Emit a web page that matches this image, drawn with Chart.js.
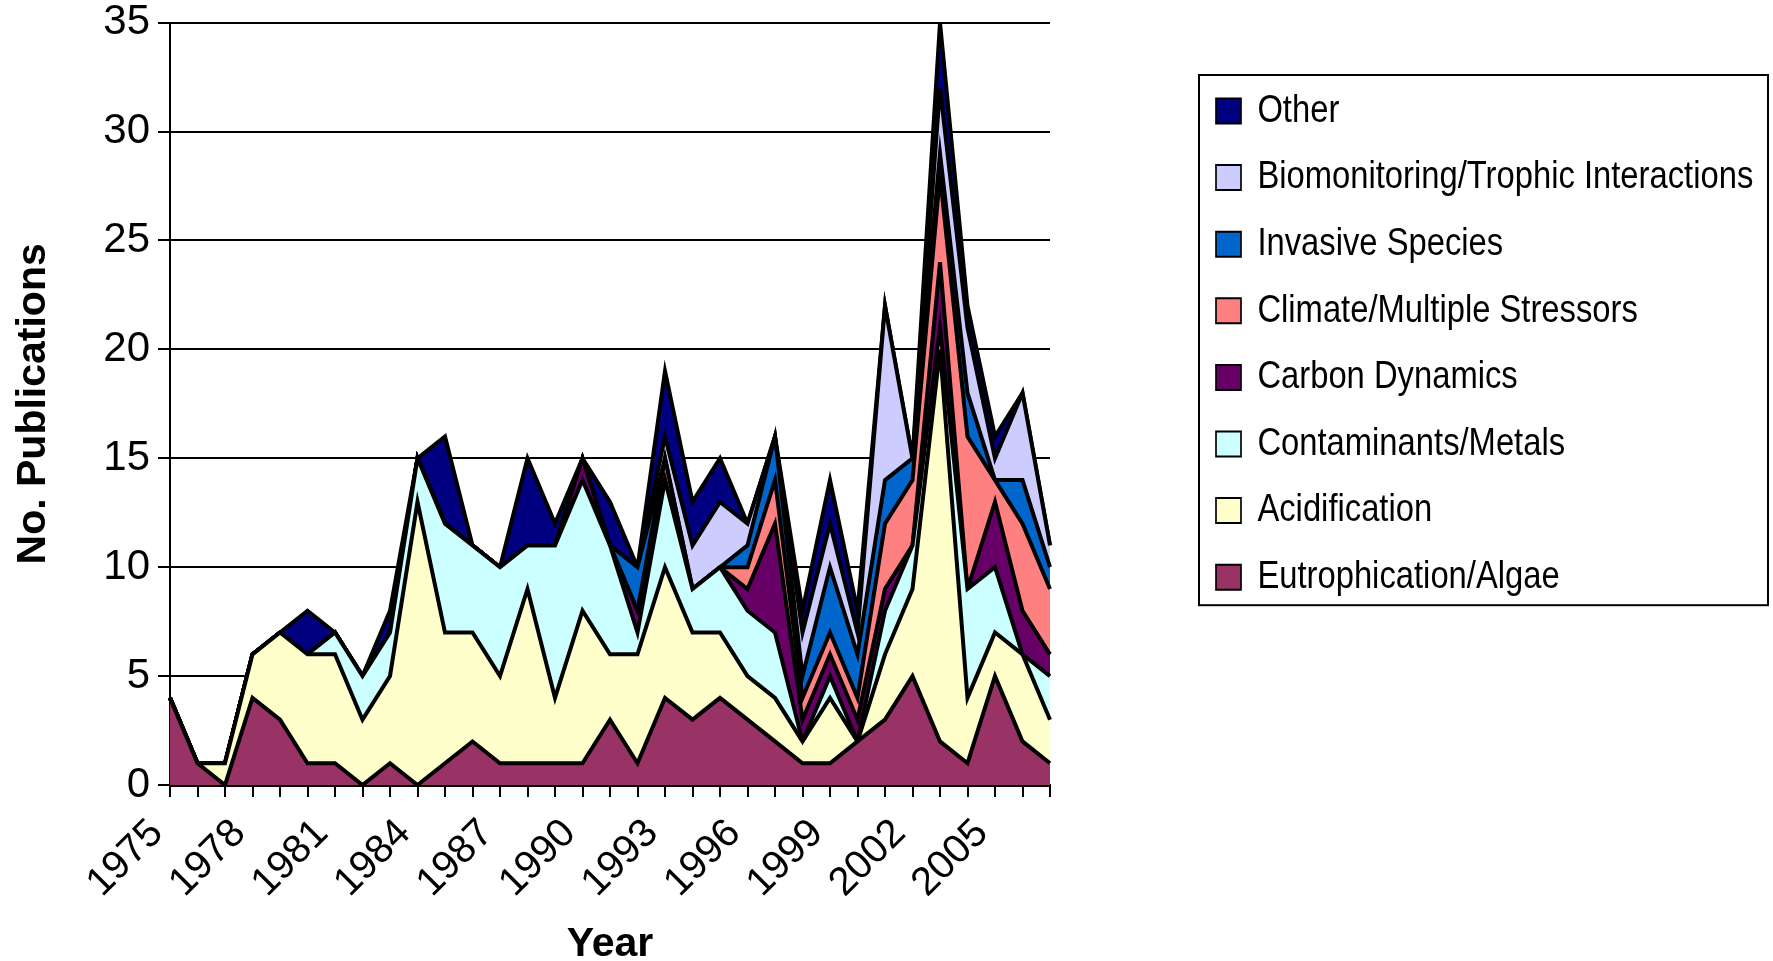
<!DOCTYPE html>
<html><head><meta charset="utf-8">
<script src="https://cdn.jsdelivr.net/npm/chart.js@4.4.1/dist/chart.umd.min.js"></script>
<style>html,body{margin:0;padding:0;background:#fff}#wrap{width:1773px;height:961px}</style>
</head><body><div id="wrap"><canvas id="c" width="1773" height="961"></canvas></div>
<script>
const years = ['1975','1976','1977','1978','1979','1980','1981','1982','1983','1984','1985','1986','1987','1988','1989','1990','1991','1992','1993','1994','1995','1996','1997','1998','1999','2000','2001','2002','2003','2004','2005','2006','2007'];
const eutrophication = [4,1,0,4,3,1,1,0,1,0,1,2,1,1,1,1,3,1,4,3,4,3,2,1,1,2,3,5,2,1,5,2,1];
const acidification  = [0,0,1,2,4,5,5,3,4,13,6,5,4,8,3,7,3,5,6,4,3,2,2,1,3,0,3,4,18,3,2,4,2];
const contaminants   = [0,0,0,0,0,0,1,2,2,2,5,4,5,2,7,6,5,1,4,2,3,3,3,0,1,0,2,2,1,5,3,0,2];
const carbon         = [0,0,0,0,0,0,0,0,0,0,0,0,0,0,0,1,0,1,0,0,0,1,5,1,1,1,1,0,3,0,3,2,1];
const climate        = [0,0,0,0,0,0,0,0,0,0,0,0,0,0,0,0,0,0,1,0,0,1,2,1,1,1,3,3,4,7,1,4,3];
const invasive       = [0,0,0,0,0,0,0,0,0,0,0,0,0,0,0,0,0,2,0,0,0,1,2,1,3,2,2,1,1,2,0,2,1];
const biomonitoring  = [0,0,0,0,0,0,0,0,0,0,0,0,0,0,0,0,0,0,1,2,3,1,0,2,2,1,8,0,3,3,1,4,1];
const other          = [0,0,0,0,0,2,0,0,1,0,4,0,0,4,1,0,2,0,3,2,2,0,0,1,2,1,0,0,3,1,1,0,0];
const yTicks = [0,5,10,15,20,25,30,35];

const SANS = "'Liberation Sans',Arial,sans-serif";

function ds(label, data, color, fill){
  return {label, data, backgroundColor: color, borderColor:'#000', borderWidth:4,
          pointRadius:0, pointHoverRadius:0, tension:0, fill, borderJoinStyle:'miter'};
}

const LEG_PAD = 27.6;      // vertical gap between legend rows
const LEG_SX = 0.84;       // horizontal condensing of the legend (narrow face)
const TOP_PAD = 17;

const legendPlace = {
  id:'legendPlace',
  afterLayout(chart){
    const L = chart.legend; if(!L) return;
    L.left = 1216 - LEG_PAD * LEG_SX;
    L.right = L.left + 760;
    L.width = L.right - L.left;
    if (!L._condensed) {
      const orig = L.draw;
      L.draw = function(...args){
        const ctx = this.ctx;
        ctx.save();
        ctx.translate(this.left, 0); ctx.scale(LEG_SX, 1); ctx.translate(-this.left, 0);
        orig.apply(this, args);
        ctx.restore();
      };
      L._condensed = true;
    }
  },
  afterDraw(chart){
    const L = chart.legend; if(!L || !L.legendHitBoxes || !L.legendHitBoxes.length) return;
    const hb = L.legendHitBoxes, last = hb[hb.length-1];
    const x0 = 1199, x1 = 1768;
    const y0 = hb[0].top - 16.5;
    const y1 = last.top + last.height + 8.5;
    const ctx = chart.ctx;
    ctx.save(); ctx.strokeStyle = '#000'; ctx.lineWidth = 2;
    ctx.strokeRect(x0, y0, x1 - x0, y1 - y0);
    ctx.restore();
  }
};

new Chart(document.getElementById('c'), {
  type:'line',
  data:{
    labels: years,
    datasets:[
      ds('Eutrophication/Algae', eutrophication, '#993366', 'origin'),
      ds('Acidification', acidification, '#FFFFCC', '-1'),
      ds('Contaminants/Metals', contaminants, '#CCFFFF', '-1'),
      ds('Carbon Dynamics', carbon, '#660066', '-1'),
      ds('Climate/Multiple Stressors', climate, '#FF8080', '-1'),
      ds('Invasive Species', invasive, '#0066CC', '-1'),
      ds('Biomonitoring/Trophic Interactions', biomonitoring, '#CCCCFF', '-1'),
      ds('Other', other, '#000080', '-1')
    ]
  },
  plugins:[legendPlace],
  options:{
    responsive:false, animation:false, devicePixelRatio:1,
    layout:{autoPadding:false, padding:{left:0, right:5, top:TOP_PAD, bottom:0}},
    plugins:{
      legend:{
        position:'right', reverse:true, align:'start',
        title:{display:true, text:' ', padding:{top:91.5 - TOP_PAD - 12 - LEG_PAD, bottom:0}, font:{size:10}},
        labels:{boxWidth:25 / LEG_SX, boxHeight:25, padding:LEG_PAD, color:'#000', font:{family:SANS, size:39},
          generateLabels(chart){
            const items = Chart.defaults.plugins.legend.labels.generateLabels(chart);
            items.forEach(it => { it.lineWidth = 2; });
            return items;
          }}
      },
      tooltip:{enabled:false}
    },
    scales:{
      x:{
        type:'category', offset:false,
        grid:{drawOnChartArea:false, drawTicks:true, tickLength:12, color:'#000', lineWidth:2},
        border:{color:'#000', width:3},
        ticks:{autoSkip:false, minRotation:45, maxRotation:45, color:'#000', padding:13, labelOffset:-13,
               font:{family:SANS, size:40},
               callback(v, i){ return i % 3 === 0 ? years[i] : ''; }},
        title:{display:true, text:'Year', color:'#000', font:{family:SANS, weight:'bold', size:41, lineHeight:0.8}, padding:{top:0, bottom:0}},
        afterFit(s){ s.height = 176; }
      },
      y:{
        stacked:true, min:0, max:35,
        afterBuildTicks(s){ s.ticks = yTicks.map(v => ({value:v})); },
        ticks:{color:'#000', padding:8, font:{family:SANS, size:42, lineHeight:0.7}},
        grid:{color:'#000', lineWidth:2, tickLength:12},
        border:{color:'#000', width:2},
        title:{display:true, text:'No. Publications', color:'#000', font:{family:SANS, weight:'bold', size:41, lineHeight:1}, padding:{top:13, bottom:0}},
        afterFit(s){ s.width = 170; }
      },
      y2:{
        position:'right', display:true,
        grid:{display:false}, ticks:{display:false}, border:{display:false},
        afterFit(s){ s.width = Math.max(0, 1773 - 5 - s.chart.legend.width - 1050); }
      }
    }
  }
});
</script>
</body></html>
